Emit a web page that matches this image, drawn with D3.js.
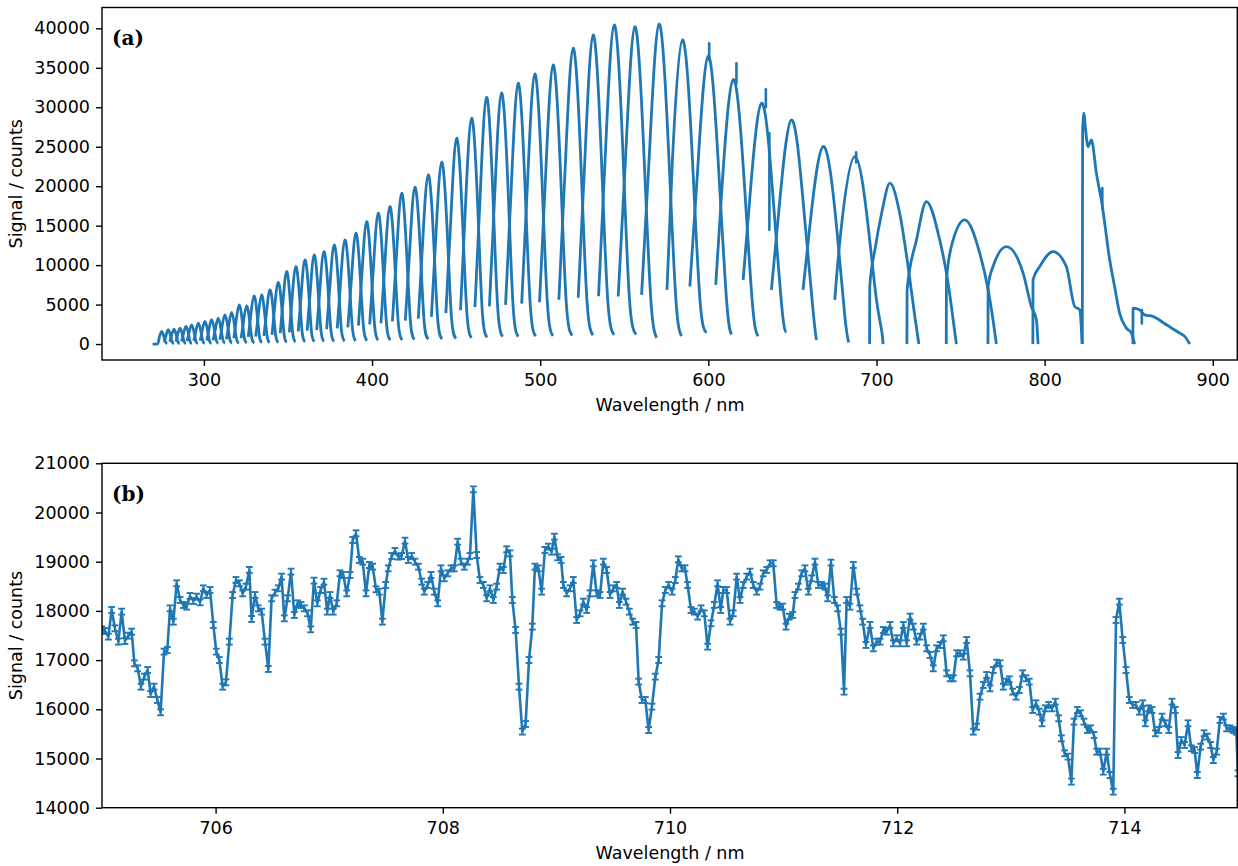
<!DOCTYPE html>
<html><head><meta charset="utf-8">
<script src="https://cdnjs.cloudflare.com/ajax/libs/d3/7.8.5/d3.min.js"></script>
<style>
html,body{margin:0;padding:0;background:#fff;}
svg{display:block;}
</style></head><body>
<svg id="chart" width="1238" height="866"></svg>
<script>
// ---------- tick labels ----------
const aXTicks = [300, 400, 500, 600, 700, 800, 900];
const aYTicks = [0, 5000, 10000, 15000, 20000, 25000, 30000, 35000, 40000];
const bXTicks = [706, 708, 710, 712, 714];
const bYTicks = [14000, 15000, 16000, 17000, 18000, 19000, 20000, 21000];

// ---------- panel (a): echelle orders, [wavelength nm, counts] ----------
const echelleOrders = [
 [[269.5,0],[272.6,30],[273.6,960],[274.9,1600],[276.2,960],[277.2,220],[278.2,50]],
 [[276.4,270],[277.5,1090],[278.8,1810],[280.1,1090],[281.2,250],[282.2,50]],
 [[279.7,290],[280.8,1140],[282.2,1900],[283.6,1140],[284.6,270],[285.6,60]],
 [[283.3,300],[284.4,1210],[285.8,2020],[287.2,1210],[288.3,280],[289.3,60]],
 [[286.7,330],[287.9,1340],[289.3,2230],[290.8,1340],[291.8,310],[292.9,70]],
 [[290.0,370],[291.2,1460],[292.7,2440],[294.2,1460],[295.3,340],[296.4,70]],
 [[294.0,400],[295.2,1600],[296.7,2660],[298.2,1600],[299.4,370],[300.5,80]],
 [[297.8,430],[299.0,1720],[300.6,2860],[302.2,1720],[303.3,400],[304.5,90]],
 [[301.7,460],[303.0,1850],[304.6,3080],[306.2,1850],[307.4,430],[308.6,90]],
 [[305.5,490],[306.9,1970],[308.5,3290],[310.1,1970],[311.4,460],[312.6,100]],
 [[309.5,560],[310.8,2230],[312.5,3710],[314.2,2230],[315.5,520],[316.7,110]],
 [[313.4,600],[314.8,2400],[316.5,4000],[318.2,2400],[319.5,560],[320.8,120]],
 [[317.8,750],[319.2,2980],[321.0,4970],[322.8,2980],[324.1,700],[325.5,150]],
 [[322.1,730],[323.6,2910],[325.4,4850],[327.2,2910],[328.6,680],[330.0,150]],
 [[326.4,920],[327.9,3670],[329.8,6110],[331.7,3670],[333.1,860],[334.5,180]],
 [[330.8,940],[332.4,3740],[334.3,6240],[336.2,3740],[337.7,870],[339.1,190]],
 [[335.7,1030],[337.3,4120],[339.3,6870],[341.3,4120],[342.8,960],[344.3,210]],
 [[340.5,1170],[342.1,4680],[344.2,7800],[346.3,4680],[347.8,1090],[349.3,230]],
 [[345.4,1380],[347.1,5510],[349.2,9190],[351.3,5510],[352.9,1290],[354.5,280]],
 [[350.8,1470],[352.5,5890],[354.7,9820],[356.9,5890],[358.5,1370],[360.2,290]],
 [[356.1,1600],[357.9,6400],[360.1,10670],[362.4,6400],[364.0,1490],[365.7,320]],
 [[361.4,1700],[363.3,6780],[365.6,11300],[367.9,6780],[369.7,1580],[371.4,340]],
 [[367.1,1760],[369.0,7030],[371.4,11720],[373.8,7030],[375.6,1640],[377.4,350]],
 [[373.0,1890],[375.0,7540],[377.5,12570],[380.0,7540],[381.8,1760],[383.7,380]],
 [[379.3,1980],[381.3,7920],[383.9,13200],[386.5,7920],[388.4,1850],[390.3,400]],
 [[385.6,2110],[387.8,8430],[390.4,14050],[393.0,8430],[395.0,1970],[397.0,420]],
 [[391.9,2330],[394.1,9310],[396.8,15520],[399.5,9310],[401.6,2170],[403.6,470]],
 [[398.6,2490],[400.9,9950],[403.7,16580],[406.5,9950],[408.7,2320],[410.8,500]],
 [[405.3,2610],[407.7,10450],[410.6,17420],[413.5,10450],[415.7,2440],[417.9,520]],
 [[412.1,2870],[414.6,11470],[417.6,19110],[420.6,11470],[422.9,2680],[425.2,570]],
 [[419.8,2980],[422.4,11920],[425.5,19870],[428.7,11920],[431.0,2780],[433.4,600]],
 [[427.5,3210],[430.1,12860],[433.4,21430],[436.7,12860],[439.1,3000],[441.6,640]],
 [[435.3,3450],[438.0,13820],[441.4,23030],[444.8,13820],[447.3,3220],[449.9,690]],
 [[443.9,3910],[446.8,15640],[450.3,26070],[453.8,15640],[456.5,3650],[459.1,780]],
 [[452.6,4290],[455.5,17160],[459.2,28600],[462.9,17160],[465.6,4000],[468.4,860]],
 [[461.2,4690],[464.3,18760],[468.1,31260],[471.9,18760],[474.8,4380],[477.7,940]],
 [[469.8,4770],[473.0,19080],[477.0,31800],[481.0,19080],[484.0,4450],[486.9,950]],
 [[479.4,4960],[482.8,19820],[486.9,33040],[491.0,19820],[494.2,4630],[497.3,990]],
 [[489.0,5130],[492.5,20530],[496.8,34210],[501.1,20530],[504.4,4790],[507.6,1030]],
 [[499.6,5300],[503.2,21210],[507.7,35350],[512.2,21210],[515.6,4950],[519.0,1060]],
 [[511.1,5620],[514.9,22480],[519.6,37470],[524.3,22480],[527.9,5250],[531.4,1120]],
 [[522.6,5870],[526.6,23490],[531.5,39150],[536.4,23490],[540.2,5480],[543.9,1170]],
 [[534.7,6060],[538.8,24250],[544.0,40420],[549.2,24250],[553.1,5660],[557.0,1210]],
 [[546.4,6030],[550.9,24120],[556.3,40200],[561.7,24120],[565.8,5630],[569.2,790]],
 [[560.3,6240],[565.0,24320],[570.7,40540],[576.4,24320],[580.7,5680],[584.0,1010]],
 [[575.4,6870],[578.6,23110],[584.6,38520],[590.6,23110],[595.1,5390],[598.9,1430]],
 [[589.0,7290],[593.6,21900],[599.9,36500],[606.2,21900],[611.0,5110],[613.8,1220]],
 [[604.4,7500],[608.2,20100],[614.8,33500],[621.5,20100],[626.4,4690],[629.6,1000]],
 [[620.7,8140],[624.6,18300],[631.6,30500],[638.6,18300],[643.9,4270],[646.5,1500]],
 [[637.5,6870],[642.0,17030],[649.4,28390],[656.8,17030],[662.4,3970],[664.3,500]],
 [[656.3,6870],[660.4,15010],[668.3,25020],[676.2,15010],[681.2,3490],[683.5,200]],
 [[675.2,5600],[678.8,14250],[687.1,23750],[695.4,14250],[700.0,5600],[703.0,1800],[703.9,0]],
 [[695.9,0],[696.0,7290],[699.3,12230],[703.0,16500],[708.0,20380],[713.8,16580],[718.8,9820],[722.8,3490],[725.2,0]],
 [[718.1,0],[718.2,6870],[723.8,13200],[729.7,18050],[737.6,13200],[742.6,7720],[745.6,3080],[747.5,0]],
 [[741.5,0],[741.6,8140],[745.6,13200],[752.5,15730],[761.4,11520],[766.4,6870],[769.3,3080],[771.3,0]],
 [[766.3,0],[766.4,7290],[769.3,9820],[777.3,12350],[787.2,8990],[792.1,4760],[795.1,3080],[796.1,0]],
 [[793.0,0],[793.1,8140],[797.1,9820],[805.0,11720],[812.9,9820],[817.9,4760],[820.9,4340],[822.3,0]],
 [[822.4,0],[822.6,27000],[823.4,29240],[824.2,27500],[825.8,25020],[827.8,25860],[830.8,21650],[834.3,17500],[838.7,10670],[841.6,7290],[844.6,3920],[848.6,2020],[851.6,1390],[853.5,0]],
 [[852.5,0],[852.6,4560],[856.5,4340],[859.5,3700],[864.4,3500],[872.4,2440],[880.3,1390],[883.3,970],[886.3,0]]
];
// narrow spikes / dips seen on top of some orders: [wavelength, from, to]
const aSpikes = [
 [600.5, 36000, 38100], [616.7, 33000, 35570], [634.2, 30000, 32280],
 [636.3, 26700, 14470], [834.3, 17200, 19780], [687.9, 23000, 24300],
 [857.8, 4300, 2600]
];

// ---------- panel (b): zoomed spectrum ----------
const bWavelength = [
 704.997,705.026,705.056,705.085,705.114,705.144,705.173,705.202,705.232,705.261,
 705.285,705.314,705.343,705.373,705.402,705.428,705.458,705.487,705.516,705.546,
 705.575,705.599,705.628,705.657,705.687,705.716,705.745,705.775,705.804,705.833,
 705.863,705.892,705.921,705.951,705.980,706.006,706.033,706.062,706.091,706.121,
 706.150,706.179,706.209,706.238,706.267,706.297,706.317,706.347,706.376,706.405,
 706.435,706.464,706.493,706.523,706.552,706.581,706.605,706.634,706.664,706.693,
 706.722,706.752,706.781,706.810,706.837,706.866,706.895,706.925,706.954,706.983,
 707.007,707.036,707.066,707.095,707.124,707.154,707.183,707.207,707.236,707.265,
 707.295,707.324,707.353,707.383,707.412,707.441,707.468,707.497,707.520,707.550,
 707.579,707.608,707.638,707.667,707.696,707.726,707.755,707.785,707.814,707.837,
 707.867,707.896,707.925,707.955,707.984,708.013,708.043,708.072,708.101,708.131,
 708.160,708.189,708.219,708.239,708.269,708.298,708.327,708.357,708.386,708.415,
 708.445,708.474,708.503,708.533,708.562,708.591,708.612,708.641,708.671,708.700,
 708.729,708.759,708.788,708.811,708.841,708.870,708.899,708.929,708.958,708.982,
 709.011,709.041,709.061,709.090,709.120,709.149,709.178,709.208,709.237,709.266,
 709.296,709.325,709.354,709.384,709.413,709.442,709.472,709.501,709.530,709.554,
 709.583,709.613,709.642,709.671,709.701,709.724,709.753,709.783,709.812,709.841,
 709.871,709.900,709.930,709.959,709.988,710.018,710.047,710.073,710.103,710.132,
 710.155,710.185,710.214,710.243,710.273,710.302,710.331,710.361,710.390,710.419,
 710.446,710.469,710.499,710.528,710.557,710.587,710.616,710.645,710.675,710.704,
 710.733,710.763,710.792,710.821,710.851,710.880,710.909,710.939,
 710.968,710.992,711.021,711.050,711.080,711.100,711.130,711.159,711.188,711.218,
 711.247,711.276,711.306,711.335,711.364,711.388,711.417,711.447,711.476,711.505,
 711.532,711.555,711.584,711.614,711.643,711.672,711.696,711.725,711.760,711.790,
 711.819,711.849,711.878,711.907,711.937,711.966,711.995,712.025,712.054,712.083,
 712.113,712.142,712.171,712.201,712.230,712.259,712.289,712.318,712.347,712.377,
 712.406,712.435,712.465,712.494,712.523,712.553,712.582,712.611,712.641,712.670,
 712.699,712.729,712.758,712.787,712.817,712.846,712.875,712.905,712.934,
 712.958,712.987,713.016,713.046,713.075,713.104,713.134,713.163,713.192,713.222,
 713.251,713.275,713.304,713.333,713.363,713.392,713.421,713.445,713.474,713.503,
 713.533,713.556,713.586,713.615,713.644,713.674,713.703,713.732,713.756,713.785,
 713.814,713.844,713.873,713.902,713.926,713.955,713.985,714.014,714.043,714.073,
 714.102,714.131,714.161,714.184,714.213,714.243,714.272,714.302,714.331,714.360,
 714.390,714.419,714.448,714.472,714.501,714.530,714.560,714.589,714.618,714.642,
 714.671,714.701,714.730,714.759,714.783,714.812,714.841,714.871,714.900,714.929,
 714.959,714.985,715.000
];
const bSignal = [
 17626,17592,17477,18019,17646,17375,17985,17388,17497,17578,
 16934,16833,16460,16664,16799,16311,16460,16189,15939,17172,
 17206,18052,17781,18561,18222,18120,18086,18303,18201,18290,
 18174,18459,18323,18425,17714,17172,17002,16460,16548,17375,
 18323,18628,18561,18357,18493,18832,17836,18323,18052,17985,
 17375,16819,18256,18371,18459,18696,17849,18256,18798,17917,
 18154,18120,18052,17951,17626,18615,18154,18425,18594,17985,
 18323,17985,18154,18764,18730,18357,18730,19441,19577,19035,
 19001,18357,18933,18899,18439,18391,17781,18527,18865,19116,
 19218,19103,19116,19428,19035,19116,19001,18899,18594,18391,
 18527,18730,18391,18154,18865,18662,18764,18865,18865,19407,
 19001,18899,19001,19116,20471,19136,18628,18527,18256,18459,
 18222,18493,18899,18832,19252,19170,18222,17612,16460,15546,
 15701,17002,17680,18899,18865,18391,19238,19306,19204,19509,
 19089,19035,18527,18357,18459,18628,17815,17951,18188,18019,
 18357,18967,18357,18323,19001,18832,18323,18459,18527,18120,
 18391,18188,17985,17781,17714,16562,16189,16189,15579,16054,
 16664,17002,18154,18425,18527,18391,18628,19048,18865,18865,
 18527,18019,17985,17883,18052,17951,17273,17748,18120,18561,
 18019,18425,18425,17781,17951,18696,18222,18527,18696,18798,
 18527,18391,18493,18764,18832,18967,18967,18120,
 18086,18086,17680,17883,17917,18323,18493,18764,18865,18391,
 18662,19001,18527,18527,18493,18256,18981,18222,18052,17578,
 16359,18222,18086,18933,18391,18052,17781,17307,17714,17239,
 17375,17375,17612,17578,17714,17341,17443,17341,17714,17341,
 17883,17680,17375,17477,17680,17239,17104,16833,17239,17307,
 17443,16731,16630,16630,17138,17138,17070,17409,16731,15546,
 15647,16257,16494,16697,16426,16799,16948,16935,16460,
 16562,16609,16359,16257,16393,16731,16630,16562,15986,16122,
 15952,15715,16020,16088,16020,16155,15817,15410,15105,15038,
 14530,15749,15986,15918,15749,15580,15613,15478,15139,15139,
 14733,15139,14665,14326,17815,18188,17409,16799,16189,16088,
 16088,15952,16122,15715,16020,15986,15512,15580,15851,15715,
 15580,16155,15986,15071,15376,15275,15715,15207,15173,14665,
 15241,15512,15444,15275,14970,15139,15783,15851,15613,15613,
 15580,15546,14699
];
const bErrorHalf = 60; // error-bar half length (counts), read from the caps

// ---------- drawing ----------
const COLOR = "#1f77b4";
const FONT = 17.5;
const SANS = "'DejaVu Sans', sans-serif";
const svg = d3.select("#chart");

function makePanel(o) {
  const x = d3.scaleLinear().domain(o.xDomain).range([o.left, o.right]);
  const y = d3.scaleLinear().domain(o.yDomain).range([o.bottom, o.top]);
  const g = svg.append("g");
  const clipId = "clip" + o.id;
  svg.append("clipPath").attr("id", clipId).append("rect")
    .attr("x", o.left).attr("y", o.top).attr("width", o.right - o.left).attr("height", o.bottom - o.top);
  const plot = g.append("g").attr("clip-path", `url(#${clipId})`);

  const xa = g.append("g").attr("transform", `translate(0,${o.bottom})`)
    .call(d3.axisBottom(x).tickValues(o.xTicks).tickFormat(d3.format("d")).tickSize(6).tickPadding(8));
  const ya = g.append("g").attr("transform", `translate(${o.left},0)`)
    .call(d3.axisLeft(y).tickValues(o.yTicks).tickFormat(d3.format("d")).tickSize(6).tickPadding(6));
  [xa, ya].forEach(a => {
    a.select(".domain").remove();
    a.selectAll(".tick line").attr("stroke", "#000").attr("stroke-width", 1.4);
    a.selectAll(".tick text").style("font-size", FONT + "px").style("font-family", SANS).attr("fill", "#000");
  });
  g.append("rect").attr("x", o.left).attr("y", o.top)
    .attr("width", o.right - o.left - 0.7).attr("height", o.bottom - o.top)
    .attr("fill", "none").attr("stroke", "#000").attr("stroke-width", 1.4);

  g.append("text").attr("x", (o.left + o.right) / 2).attr("y", o.bottom + 51)
    .attr("text-anchor", "middle").style("font-size", FONT + "px").style("font-family", SANS)
    .text("Wavelength / nm");
  g.append("text").attr("transform", `translate(21.5,${(o.top + o.bottom) / 2}) rotate(-90)`)
    .attr("text-anchor", "middle").style("font-size", FONT + "px").style("font-family", SANS)
    .text("Signal / counts");
  g.append("text").attr("x", o.left + 10).attr("y", o.top + 37.5)
    .style("font-family", "'DejaVu Serif', serif").style("font-weight", "bold").style("font-size", "20px")
    .text(o.tag);
  return {x, y, plot};
}

// Panel (a)
const A = makePanel({id: "a", left: 102, right: 1238, top: 7.5, bottom: 360,
  xDomain: [239.4, 915], yDomain: [-2020, 42640], xTicks: aXTicks, yTicks: aYTicks, tag: "(a)"});
const lineNat = d3.line().x(d => A.x(d[0])).y(d => A.y(d[1])).curve(d3.curveNatural);
const lineMono = d3.line().x(d => A.x(d[0])).y(d => A.y(d[1])).curve(d3.curveMonotoneX);
A.plot.selectAll("path.order").data(echelleOrders).join("path")
  .attr("class", "order")
  .attr("d", (d, i) => (i >= 1 && i <= 51) ? lineNat(d) : lineMono(d))
  .attr("fill", "none").attr("stroke", COLOR).attr("stroke-width", 2.8).attr("stroke-linejoin", "round");
A.plot.selectAll("line.spike").data(aSpikes).join("line").attr("class", "spike")
  .attr("x1", d => A.x(d[0])).attr("x2", d => A.x(d[0]))
  .attr("y1", d => A.y(d[1])).attr("y2", d => A.y(d[2]))
  .attr("stroke", COLOR).attr("stroke-width", 2.6).attr("stroke-linecap", "round");

// Panel (b)
const B = makePanel({id: "b", left: 102, right: 1238, top: 463.3, bottom: 807.7,
  xDomain: [705, 715], yDomain: [14000, 21000], xTicks: bXTicks, yTicks: bYTicks, tag: "(b)"});
const bData = d3.zip(bWavelength, bSignal);
const lineB = d3.line().x(d => B.x(d[0])).y(d => B.y(d[1]));
B.plot.append("path").datum(bData).attr("d", lineB)
  .attr("fill", "none").attr("stroke", COLOR).attr("stroke-width", 2.6).attr("stroke-linejoin", "round");
const eb = B.plot.append("g").attr("stroke", COLOR).attr("stroke-width", 1.9);
eb.selectAll("line.bar").data(bData).join("line").attr("class", "bar")
  .attr("x1", d => B.x(d[0])).attr("x2", d => B.x(d[0]))
  .attr("y1", d => B.y(d[1] - bErrorHalf)).attr("y2", d => B.y(d[1] + bErrorHalf));
["top", "bot"].forEach(k => {
  eb.selectAll("line.cap" + k).data(bData).join("line").attr("class", "cap" + k)
    .attr("x1", d => B.x(d[0]) - 3.4).attr("x2", d => B.x(d[0]) + 3.4)
    .attr("y1", d => B.y(d[1] + (k === "top" ? bErrorHalf : -bErrorHalf)))
    .attr("y2", d => B.y(d[1] + (k === "top" ? bErrorHalf : -bErrorHalf)));
});
</script>
</body></html>
